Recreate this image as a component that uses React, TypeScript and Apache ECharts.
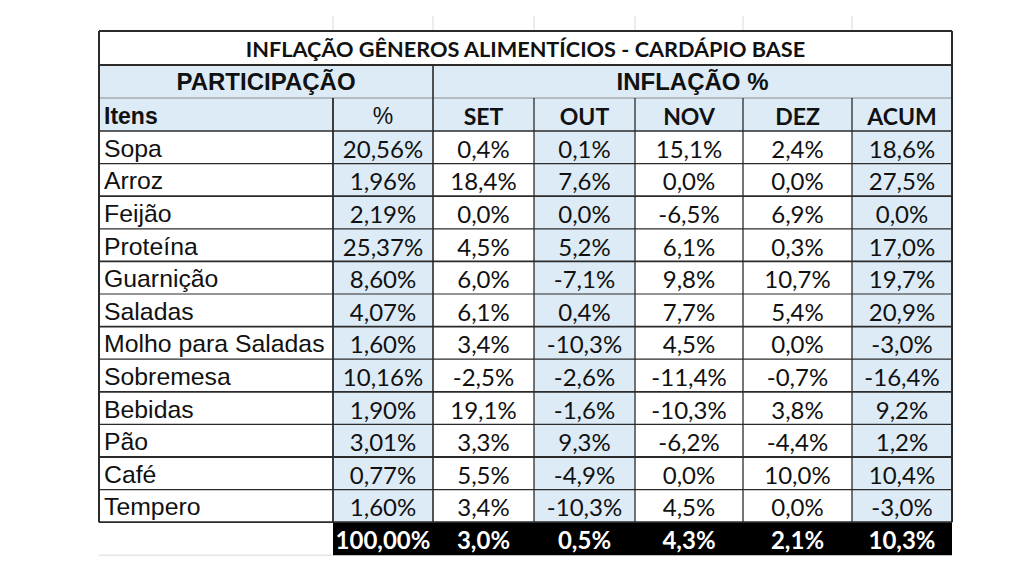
import React, { useEffect, useRef } from "react";
import * as echarts from "echarts";

const title = "INFLAÇÃO GÊNEROS ALIMENTÍCIOS - CARDÁPIO BASE";
const groupHeaders = ["PARTICIPAÇÃO", "INFLAÇÃO %"];
const columnHeaders = ["Itens", "%", "SET", "OUT", "NOV", "DEZ", "ACUM"];
const items = [
  "Sopa", "Arroz", "Feijão", "Proteína", "Guarnição", "Saladas",
  "Molho para Saladas", "Sobremesa", "Bebidas", "Pão", "Café", "Tempero",
];
const participacao = [20.56, 1.96, 2.19, 25.37, 8.6, 4.07, 1.6, 10.16, 1.9, 3.01, 0.77, 1.6];
const setV = [0.4, 18.4, 0.0, 4.5, 6.0, 6.1, 3.4, -2.5, 19.1, 3.3, 5.5, 3.4];
const outV = [0.1, 7.6, 0.0, 5.2, -7.1, 0.4, -10.3, -2.6, -1.6, 9.3, -4.9, -10.3];
const novV = [15.1, 0.0, -6.5, 6.1, 9.8, 7.7, 4.5, -11.4, -10.3, -6.2, 0.0, 4.5];
const dezV = [2.4, 0.0, 6.9, 0.3, 10.7, 5.4, 0.0, -0.7, 3.8, -4.4, 10.0, 0.0];
const acumV = [18.6, 27.5, 0.0, 17.0, 19.7, 20.9, -3.0, -16.4, 9.2, 1.2, 10.4, -3.0];
const totals = [100.0, 3.0, 0.5, 4.3, 2.1, 10.3];

const fmt = (v: number, d: number) => v.toFixed(d).replace(".", ",") + "%";

export default function App() {
  const ref = useRef<HTMLDivElement>(null);
  useEffect(() => {
    if (!ref.current) return;
    const chart = echarts.init(ref.current, undefined, { renderer: "svg" });

    const colEdges = [99, 333, 433, 534, 635, 743, 852, 952];
    const L = colEdges[0];
    const R = colEdges[colEdges.length - 1];
    const yTitle = 31;
    const yGroup = 65;
    const yHead = 98;
    const yData = 131;
    const rowH = 32.6;
    const yTotal = yData + rowH * items.length;
    const yEnd = yTotal + 33;
    const blue = "#DDEBF7";
    const lineC = "#2b2b2b";
    const textC = "#111111";
    const arial = "Liberation Sans, Arial, sans-serif";
    const calibri = "Lato, Carlito, sans-serif";
    const blueCols = [1, 3, 6];

    const fills: any[] = [];
    const lines: any[] = [];
    const texts: any[] = [];

    const rect = (x1: number, y1: number, x2: number, y2: number, fill: string) =>
      fills.push({ type: "rect", shape: { x: x1, y: y1, width: x2 - x1, height: y2 - y1 }, style: { fill } });
    const line = (x1: number, y1: number, x2: number, y2: number, w: number, c = lineC) =>
      lines.push({ type: "line", shape: { x1, y1, x2, y2 }, style: { stroke: c, lineWidth: w } });
    const text = (x: number, y: number, s: string, font: string, align = "center", fill = textC) =>
      texts.push({
        type: "text",
        x,
        y,
        style: { text: s, font, fill, align, verticalAlign: "middle", textAlign: align, textVerticalAlign: "middle" },
      });

    // faint spreadsheet gridlines above the table
    colEdges.slice(1, -1).forEach((x) => line(x, 16, x, yTitle, 1, "#d9d9d9"));
    line(L, yEnd, colEdges[1], yEnd, 1, "#d9d9d9");

    // fills
    rect(L, yTitle, R, yGroup, "#ffffff");
    rect(L, yGroup, R, yData, blue);
    items.forEach((_, r) => {
      blueCols.forEach((c) => rect(colEdges[c], yData + r * rowH, colEdges[c + 1], yData + (r + 1) * rowH, blue));
    });
    rect(colEdges[1], yTotal, R, yEnd, "#000000");

    // lines
    line(L, yTitle, R, yTitle, 2);
    line(L, yGroup, R, yGroup, 2);
    line(L, yHead, R, yHead, 1, "#8a8a8a");
    line(L, yData, R, yData, 1.5);
    items.forEach((_, r) => line(L, yData + (r + 1) * rowH, R, yData + (r + 1) * rowH, r % 2 === 0 ? 1.2 : 1.8));
    line(L, yTitle, L, yTotal, 2);
    line(R, yTitle, R, yTotal, 2);
    line(colEdges[2], yGroup, colEdges[2], yTotal, 1.6);
    colEdges.slice(1, -1).forEach((x, i) => {
      if (i === 1) return;
      line(x, yHead, x, yTotal, i === 0 ? 1.8 : 1.3);
    });

    // texts
    text((L + R) / 2, (yTitle + yGroup) / 2 + 1, title, `bold 21.7px ${calibri}`);
    text((L + colEdges[2]) / 2, (yGroup + yHead) / 2, groupHeaders[0], `bold 24px ${arial}`);
    text((colEdges[2] + R) / 2, (yGroup + yHead) / 2, groupHeaders[1], `bold 24px ${arial}`);
    columnHeaders.forEach((h, c) => {
      const cy = (yHead + yData) / 2 + 1;
      if (c === 0) text(L + 5, cy, h, `bold 23px ${arial}`, "left");
      else if (c === 1) text((colEdges[1] + colEdges[2]) / 2, cy, h, `23px ${arial}`);
      else text((colEdges[c] + colEdges[c + 1]) / 2, cy, h, `bold 23px ${calibri}`);
    });
    const series = [participacao, setV, outV, novV, dezV, acumV];
    items.forEach((name, r) => {
      const cy = yData + r * rowH + rowH / 2 + 1;
      text(L + 5, cy, name, `24.8px ${arial}`, "left");
      series.forEach((vals, k) => {
        const c = k + 1;
        text((colEdges[c] + colEdges[c + 1]) / 2, cy, fmt(vals[r], k === 0 ? 2 : 1), `24px ${calibri}`);
      });
    });
    totals.forEach((v, k) => {
      const c = k + 1;
      text((colEdges[c] + colEdges[c + 1]) / 2, (yTotal + yEnd) / 2 + 1, fmt(v, k === 0 ? 2 : 1), `bold 24px ${calibri}`, "center", "#ffffff");
    });

    chart.setOption({
      animation: false,
      backgroundColor: "#ffffff",
      graphic: { elements: [...fills, ...lines, ...texts] },
    });
    return () => chart.dispose();
  }, []);
  return <div ref={ref} style={{ position: "fixed", left: 0, top: 0, width: 1024, height: 576 }} />;
}
